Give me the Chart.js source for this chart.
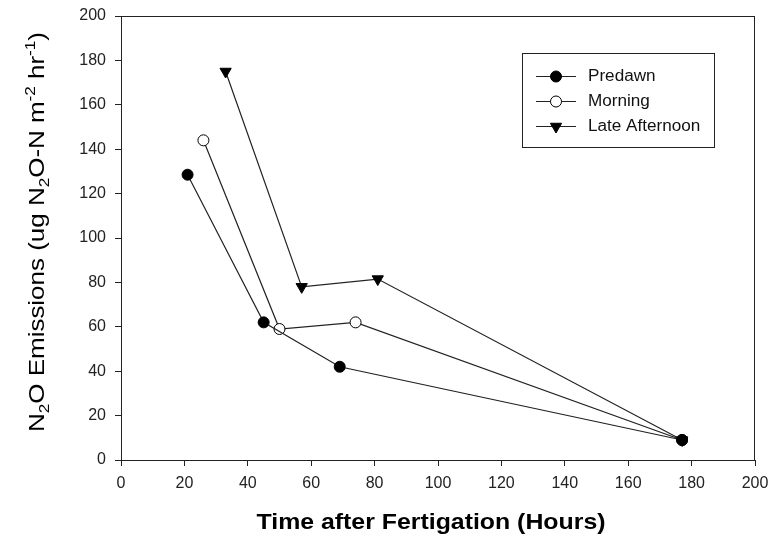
<!DOCTYPE html>
<html>
<head>
<meta charset="utf-8">
<script src="https://cdn.jsdelivr.net/npm/chart.js@4.4.1/dist/chart.umd.min.js"></script>
<style>
html,body{margin:0;padding:0;background:#fff;}
#wrap{width:770px;height:546px;}
</style>
</head>
<body>
<div id="wrap"><canvas id="c" width="770" height="546"></canvas></div>
<script>
const seriesNames = ["Predawn", "Morning", "Late Afternoon"];
const predawnHours = [21, 45, 69, 177];
const predawnValues = [128.5, 62, 42, 9];
const morningHours = [26, 50, 74, 177];
const morningValues = [144, 59, 62, 9];
const afternoonHours = [33, 57, 81, 177];
const afternoonValues = [175, 78, 81.5, 9];
const xTicks = [0, 20, 40, 60, 80, 100, 120, 140, 160, 180, 200];
const yTicks = [0, 20, 40, 60, 80, 100, 120, 140, 160, 180, 200];
const xTitle = "Time after Fertigation (Hours)";
// y title as runs: [text, kind] kind: n normal, sub, sup
const yTitleRuns = [["N","n"],["2","sub"],["O Emissions (ug N","n"],["2","sub"],["O-N m","n"],["-2","sup"],[" hr","n"],["-1","sup"],[")","n"]];

function pts(xs, ys){ return xs.map((x,i)=>({x:x, y:ys[i]})); }

const FONT = "'Liberation Sans', Arial, sans-serif";
const INK = "#222";

const frameAndLegend = {
  id: 'frameAndLegend',
  afterDraw(chart){
    const ctx = chart.ctx, a = chart.chartArea;
    ctx.save();
    ctx.strokeStyle = INK;
    ctx.lineWidth = 1;
    ctx.strokeRect(Math.round(a.left)+0.5, Math.round(a.top)+0.5, Math.round(a.right-a.left)-1, Math.round(a.bottom-a.top));

    // x title (slightly wide lettering as in the reference)
    ctx.save();
    ctx.font = "bold 22px " + FONT;
    ctx.fillStyle = "#000";
    ctx.textAlign = 'center';
    ctx.textBaseline = 'middle';
    ctx.translate(431, 523);
    ctx.scale(1.13, 1);
    ctx.fillText(xTitle, 0, 0);
    ctx.restore();

    // y title with sub/superscripts
    ctx.save();
    const big = 22, small = 14.5;
    const fBig = big + "px " + FONT, fSmall = small + "px " + FONT;
    let total = 0;
    yTitleRuns.forEach(r => { ctx.font = r[1]==='n' ? fBig : fSmall; total += ctx.measureText(r[0]).width; });
    ctx.translate(36, 232);
    ctx.rotate(-Math.PI/2);
    ctx.scale(1.18, 1);
    ctx.fillStyle = "#000";
    ctx.textBaseline = 'alphabetic';
    let px = -total/2;
    yTitleRuns.forEach(r => {
      ctx.font = r[1]==='n' ? fBig : fSmall;
      const dy = r[1]==='sub' ? 12.5 : (r[1]==='sup' ? -1 : 8);
      ctx.fillText(r[0], px, dy);
      px += ctx.measureText(r[0]).width;
    });
    ctx.restore();

    // legend box
    const bx = 522.5, by = 53.5, bw = 192, bh = 94;
    ctx.strokeStyle = INK;
    ctx.strokeRect(bx, by, bw, bh);
    ctx.textBaseline = 'middle';
    chart.data.datasets.forEach((ds, i) => {
      const y = 76 + i*25;
      ctx.beginPath();
      ctx.strokeStyle = INK;
      ctx.lineWidth = 1;
      ctx.moveTo(536, y+0.5); ctx.lineTo(576, y+0.5); ctx.stroke();
      ctx.fillStyle = ds.pointBackgroundColor;
      ctx.strokeStyle = '#000';
      Chart.helpers.drawPoint(ctx, {
        pointStyle: ds.pointStyle, rotation: ds.pointRotation || 0,
        radius: ds.pointRadius, borderWidth: 1
      }, 556, y+0.5);
      ctx.save();
      ctx.font = "16px " + FONT;
      ctx.fillStyle = "#111";
      ctx.translate(588, y+1);
      ctx.scale(1.07, 1);
      ctx.fillText(ds.label, 0, 0);
      ctx.restore();
    });
    ctx.restore();
  }
};

new Chart(document.getElementById('c'), {
  type: 'scatter',
  data: {
    datasets: [
      { label: seriesNames[0], data: pts(predawnHours, predawnValues), showLine: true,
        borderColor: INK, borderWidth: 1.2, pointStyle: 'circle', pointRadius: 5.5,
        pointBackgroundColor: '#000', pointBorderColor: '#000', pointBorderWidth: 1 },
      { label: seriesNames[1], data: pts(morningHours, morningValues), showLine: true,
        borderColor: INK, borderWidth: 1.2, pointStyle: 'circle', pointRadius: 5.5,
        pointBackgroundColor: '#fff', pointBorderColor: '#000', pointBorderWidth: 1 },
      { label: seriesNames[2], data: pts(afternoonHours, afternoonValues), showLine: true,
        borderColor: INK, borderWidth: 1.2, pointStyle: 'triangle', pointRotation: 180, pointRadius: 6.5,
        pointBackgroundColor: '#000', pointBorderColor: '#000', pointBorderWidth: 1 }
    ]
  },
  options: {
    responsive: false,
    animation: false,
    layout: { padding: { top: 16, right: 15, left: 0, bottom: 0 } },
    plugins: { legend: { display: false }, tooltip: { enabled: false } },
    scales: {
      x: {
        type: 'linear', min: 0, max: 200,
        afterBuildTicks(s){ s.ticks = xTicks.map(v=>({value:v})); },
        afterFit(s){ s.height = 86; s.paddingRight = 0; s.paddingLeft = 0; },
        grid: { drawOnChartArea: false, drawTicks: true, tickLength: 6, color: INK, tickColor: INK },
        border: { display: true, color: INK, width: 1 },
        ticks: { font: { family: FONT, size: 16 }, color: '#222', padding: 8, maxRotation: 0 },
        title: { display: false }
      },
      y: {
        type: 'linear', min: 0, max: 200,
        afterBuildTicks(s){ s.ticks = yTicks.map(v=>({value:v})); },
        afterFit(s){ s.width = 121; s.paddingTop = 0; s.paddingBottom = 0; },
        grid: { drawOnChartArea: false, drawTicks: true, tickLength: 6, color: INK, tickColor: INK },
        border: { display: true, color: INK, width: 1 },
        ticks: { font: { family: FONT, size: 16 }, color: '#222', padding: 9 },
        title: { display: false }
      }
    }
  },
  plugins: [frameAndLegend]
});
</script>
</body>
</html>
